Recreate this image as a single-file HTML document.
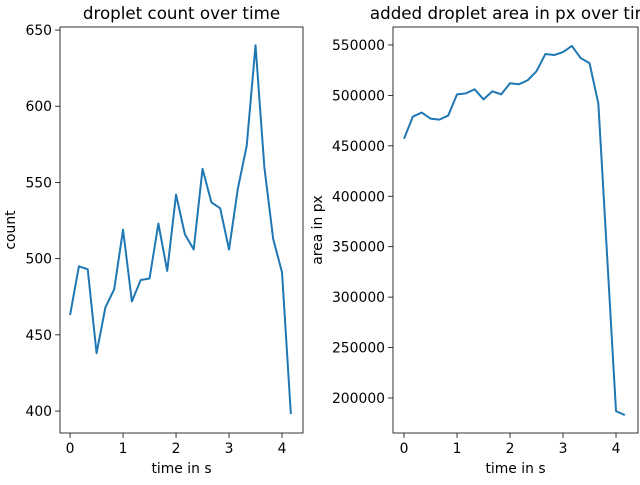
<!DOCTYPE html>
<html><head><meta charset="utf-8"><style>
body{margin:0;background:#fff}
svg text{font-family:"DejaVu Sans","Liberation Sans",sans-serif;fill:#000}
</style></head><body>
<svg id="c" width="640" height="480" xmlns="http://www.w3.org/2000/svg"></svg>
<script>
const times = Array.from({length:26},(_,i)=>i/6);
const countValues = [463,495,493,438,468,480,519,472,486,487,523,492,542,516,506,559,537,533,506,546,574,640,560,513,491,398];
const areaValues = [457000,479000,483000,477000,476000,480000,501000,502000,506000,496000,504000,501000,512000,511000,515000,524000,541000,540000,543000,549000,537000,532000,492000,340000,187000,183000];
const xTicks = [0,1,2,3,4];
const countTicks = [400,450,500,550,600,650];
const areaTicks = [200000,250000,300000,350000,400000,450000,500000,550000];
const NS="http://www.w3.org/2000/svg";
const svg=document.getElementById('c');
function mk(tag,attrs,parent){const e=document.createElementNS(NS,tag);for(const k in attrs)e.setAttribute(k,attrs[k]);(parent||svg).appendChild(e);return e;}
function panel(name,L,R,T,B,xmin,xmax,ymin,ymax,xs,ys,yt,title,ylabel){
  const g=mk('g',{});
  
  
  const X=v=>L+(v-xmin)/(xmax-xmin)*(R-L);
  const Y=v=>B-(v-ymin)/(ymax-ymin)*(B-T);
  xTicks.forEach(t=>{const x=X(t);
    const l=mk('line',{x1:x,x2:x,y1:B,y2:B+4.9,stroke:'#000','stroke-width':0.8},g);
    
    const tx=mk('text',{x:x,y:B+20,'text-anchor':'middle','font-size':13.9},g);tx.textContent=t;
    });
  yt.forEach(t=>{const y=Y(t);
    const l=mk('line',{x1:L-4.9,x2:L,y1:y,y2:y,stroke:'#000','stroke-width':0.8},g);
    
    const tx=mk('text',{x:L-8,y:y+5,'text-anchor':'end','font-size':13.9},g);tx.textContent=t;
    });
  const p=mk('polyline',{points:xs.map((v,i)=>X(v)+','+Y(ys[i])).join(' '),fill:'none',stroke:'#1f77b4','stroke-width':2,'stroke-linejoin':'round'},g);
  
  const r=mk('rect',{x:L,y:T,width:R-L,height:B-T,fill:'none',stroke:'#000','stroke-width':0.8},g);
  
  const ti=mk('text',{x:(L+R)/2,y:T-8,'text-anchor':'middle','font-size':16.7},g);ti.textContent=title;
  
  const xl=mk('text',{x:(L+R)/2,y:473,'text-anchor':'middle','font-size':13.9},g);xl.textContent='time in s';
  
  const lx=name==='count'?15:322;
  const yl=mk('text',{x:lx,y:(T+B)/2,'text-anchor':'middle','font-size':13.9,transform:`rotate(-90 ${lx} ${(T+B)/2})`},g);yl.textContent=ylabel;
  
}
panel('count',60,303,27,433,-0.19,4.396,385.6,652,times,countValues,countTicks,'droplet count over time','count');
panel('area',393,638,27,433,-0.208,4.415,165300,567800,times,areaValues,areaTicks,'added droplet area in px over time','area in px');
</script>
</body></html>
